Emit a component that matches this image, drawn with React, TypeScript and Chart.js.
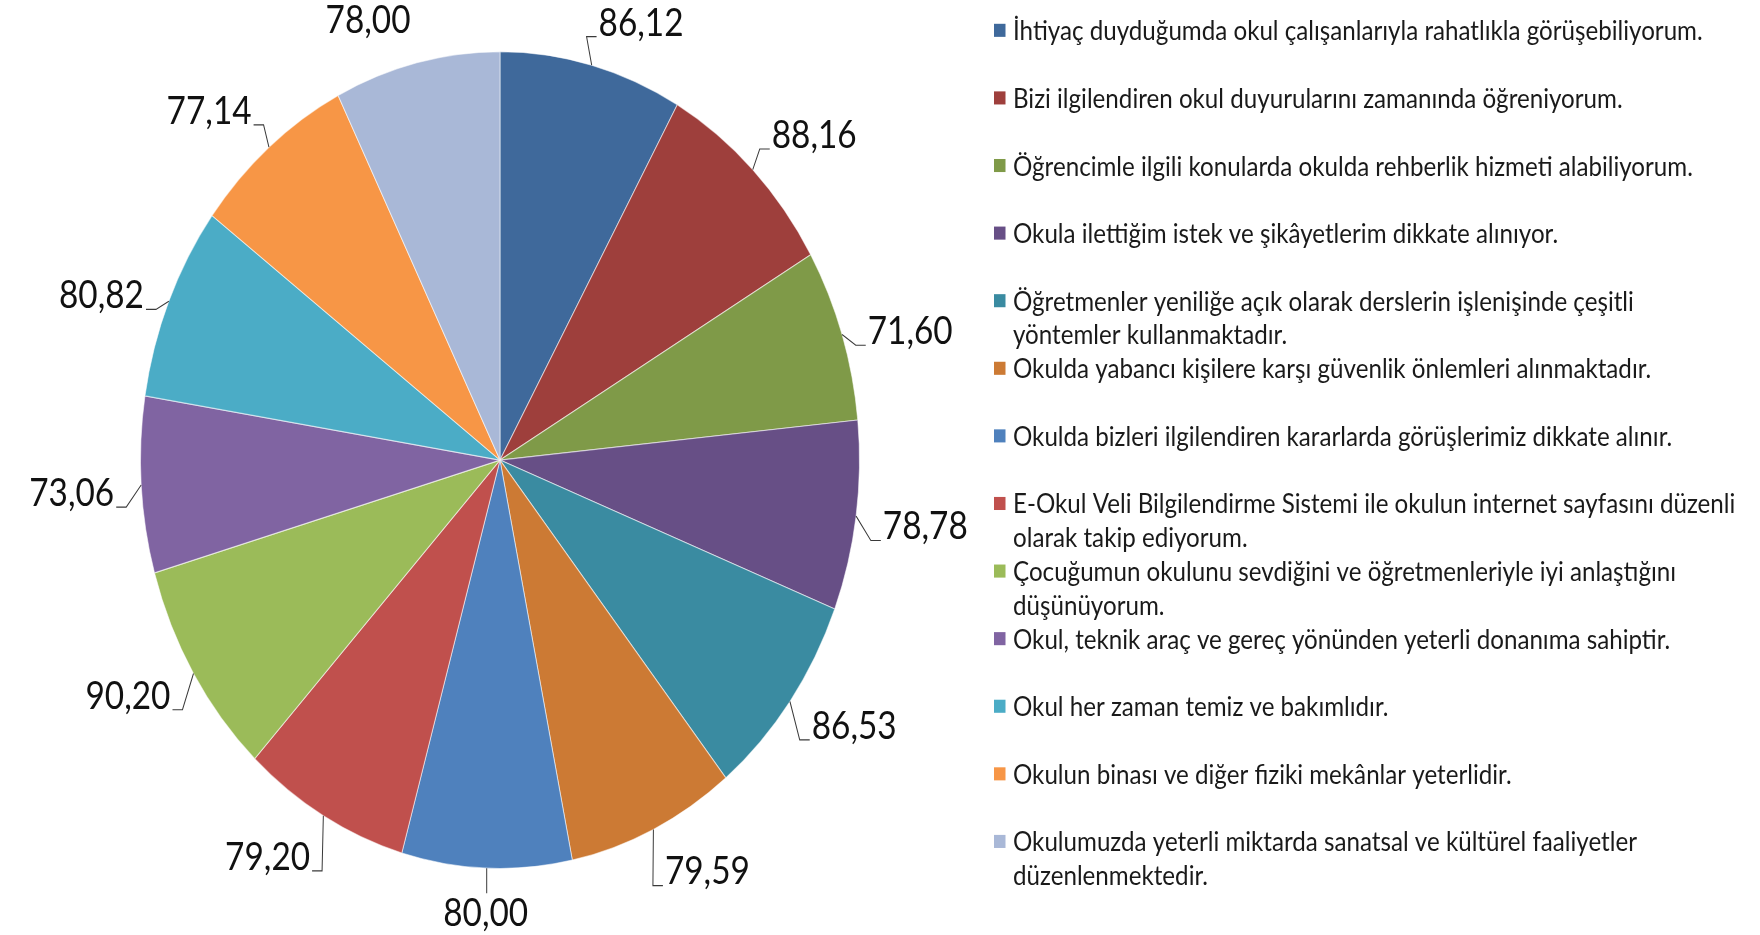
import React, { useEffect, useRef } from 'react';
import { Chart, registerables } from 'chart.js';

Chart.register(...registerables);

// ---------- data ----------
const categories: string[][] = [
  ['İhtiyaç duyduğumda okul çalışanlarıyla rahatlıkla görüşebiliyorum.'],
  ['Bizi ilgilendiren okul duyurularını zamanında öğreniyorum.'],
  ['Öğrencimle ilgili konularda okulda rehberlik hizmeti alabiliyorum.'],
  ['Okula ilettiğim istek ve şikâyetlerim dikkate alınıyor.'],
  ['Öğretmenler yeniliğe açık olarak derslerin işlenişinde çeşitli', 'yöntemler kullanmaktadır.'],
  ['Okulda yabancı kişilere karşı güvenlik önlemleri alınmaktadır.'],
  ['Okulda bizleri ilgilendiren kararlarda görüşlerimiz dikkate alınır.'],
  ['E-Okul Veli Bilgilendirme Sistemi ile okulun internet sayfasını düzenli', 'olarak takip ediyorum.'],
  ['Çocuğumun okulunu sevdiğini ve öğretmenleriyle iyi anlaştığını', 'düşünüyorum.'],
  ['Okul, teknik araç ve gereç yönünden yeterli donanıma sahiptir.'],
  ['Okul her zaman temiz ve bakımlıdır.'],
  ['Okulun binası ve diğer fiziki mekânlar yeterlidir.'],
  ['Okulumuzda yeterli miktarda sanatsal ve kültürel faaliyetler', 'düzenlenmektedir.'],
];

const values: number[] = [86.12, 88.16, 71.6, 78.78, 86.53, 79.59, 80.0, 79.2, 90.2, 73.06, 80.82, 77.14, 78.0];

const valueLabels: string[] = values.map((v) => v.toFixed(2).replace('.', ','));

const colors: string[] = [
  '#3F699B',
  '#9E3F3C',
  '#7F9A48',
  '#674F86',
  '#3A8BA1',
  '#CC7A34',
  '#4F81BD',
  '#C0504D',
  '#9BBB59',
  '#8064A2',
  '#4BACC6',
  '#F79646',
  '#A9B8D7',
];

// ---------- layout / style ----------
const W = 1760;
const H = 935;
const STRETCH = 1.136; // the whole figure is drawn taller than wide
const FONT = 'Lato, "Open Sans", sans-serif';
const VALUE_TARGET_W = 85;
const LEGEND_TARGET_W = 690;
const LABEL_OFFSET = 27;
const SIDE_LIFT = 0.3; // share of label height above the anchor for side labels
const LEG_MARK_X = 994;
const LEG_TEXT_X = 1013;
const LEG_Y0 = 26.7;
const LEG_STEP = 59.5;
const LEG_LINE = 29.7;
const LEG_MARK = 11.5;

const fitSize = (ctx: CanvasRenderingContext2D, text: string, target: number) => {
  ctx.font = `100px ${FONT}`;
  return (100 * target) / ctx.measureText(text).width;
};

const stretchPlugin = {
  id: 'stretchY',
  beforeDraw(chart: any) {
    chart.ctx.save();
    chart.ctx.scale(1, STRETCH);
  },
  afterDraw(chart: any) {
    chart.ctx.restore();
  },
};

const labelsPlugin = {
  id: 'labelsAndLegend',
  afterDatasetsDraw(chart: any) {
    const ctx: CanvasRenderingContext2D = chart.ctx;
    const meta = chart.getDatasetMeta(0);
    ctx.save();

    // ---- value labels with leader lines ----
    const vSize = fitSize(ctx, '78,00', VALUE_TARGET_W);
    ctx.font = `${vSize}px ${FONT}`;
    const digitH = ctx.measureText('0').actualBoundingBoxAscent;
    ctx.textBaseline = 'alphabetic';
    ctx.textAlign = 'left';
    meta.data.forEach((arc: any, i: number) => {
      const p = arc.getProps(['x', 'y', 'startAngle', 'endAngle', 'outerRadius'], true);
      const a = (p.startAngle + p.endAngle) / 2;
      const dx = Math.cos(a);
      const dy = Math.sin(a);
      const ex = p.x + p.outerRadius * dx;
      const ey = p.y + p.outerRadius * dy;
      const ax = p.x + (p.outerRadius + LABEL_OFFSET) * dx;
      const ay = p.y + (p.outerRadius + LABEL_OFFSET) * dy;
      const text = valueLabels[i];
      const w = ctx.measureText(text).width;
      let left: number;
      if (dx > 0.1) left = ax;
      else if (dx < -0.1) left = ax - w;
      else left = ax - w / 2;
      let top: number;
      if (dy < -0.6) top = ay - digitH;
      else if (dy > 0.6) top = ay;
      else top = ay - digitH * SIDE_LIFT;
      const bottom = top + digitH;

      ctx.fillStyle = '#111';
      ctx.fillText(text, left, bottom);

      // the label nearest the top of the pie sits right on it, with no leader
      if (dy < -0.9 && dx < 0) return;

      ctx.strokeStyle = '#3a3a3a';
      ctx.lineWidth = 1;
      ctx.beginPath();
      if (dx > 0.1) {
        const cx = left - 2;
        ctx.moveTo(ex, ey);
        ctx.lineTo(cx - 10, bottom + 1);
        ctx.lineTo(cx, bottom + 1);
      } else if (dx < -0.1) {
        const cx = left + w + 2;
        ctx.moveTo(ex, ey);
        ctx.lineTo(cx + 10, bottom + 1);
        ctx.lineTo(cx, bottom + 1);
      } else {
        ctx.moveTo(ex, ey);
        ctx.lineTo(ex, dy > 0 ? top - 5 : bottom + 4);
      }
      ctx.stroke();
    });

    // ---- legend ----
    const lSize = fitSize(ctx, categories[0][0], LEGEND_TARGET_W);
    ctx.font = `${lSize}px ${FONT}`;
    ctx.textBaseline = 'middle';
    categories.forEach((lines, i) => {
      const cy = LEG_Y0 + i * LEG_STEP;
      ctx.fillStyle = colors[i];
      ctx.fillRect(LEG_MARK_X, cy - LEG_MARK / 2, LEG_MARK, LEG_MARK);
      ctx.fillStyle = '#1a1a1a';
      lines.forEach((ln, j) => ctx.fillText(ln, LEG_TEXT_X, cy + j * LEG_LINE + 1));
    });

    ctx.restore();
  },
};

export default function App() {
  const ref = useRef<HTMLCanvasElement | null>(null);

  useEffect(() => {
    if (!ref.current) return;
    const chart = new Chart(ref.current, {
      type: 'pie',
      data: {
        labels: categories.map((c) => c.join(' ')),
        datasets: [
          {
            data: values,
            backgroundColor: colors,
            borderColor: 'rgba(255,255,255,0.55)',
            borderWidth: 1,
          },
        ],
      },
      options: {
        responsive: false,
        animation: false,
        events: [],
        layout: { padding: { left: 140, right: 900, top: 45, bottom: 170 } },
        plugins: {
          legend: { display: false },
          tooltip: { enabled: false },
        },
      },
      plugins: [stretchPlugin, labelsPlugin],
    });
    return () => chart.destroy();
  }, []);

  return (
    <div style={{ position: 'absolute', left: 0, top: 0, width: W, height: H, background: '#fff' }}>
      <canvas ref={ref} width={W} height={H} style={{ display: 'block' }} />
    </div>
  );
}
